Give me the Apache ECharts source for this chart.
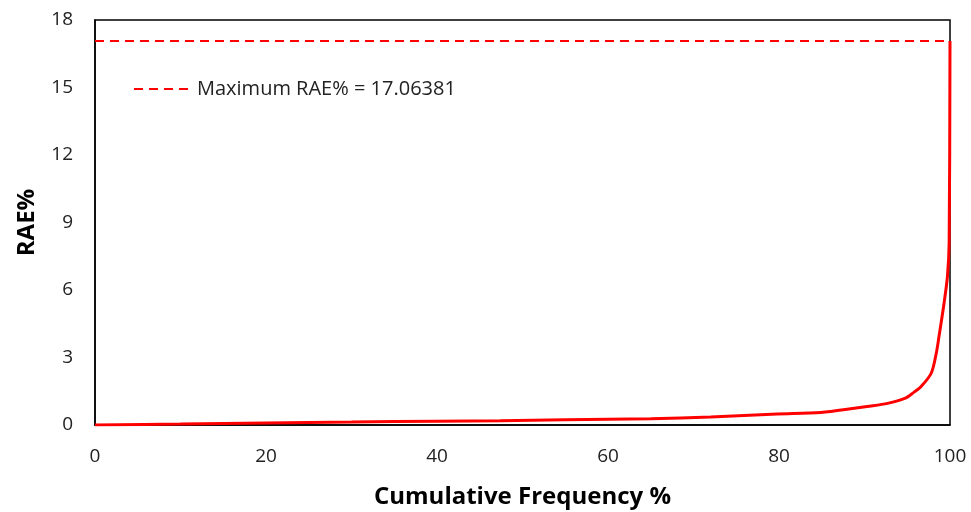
<!DOCTYPE html>
<html>
<head>
<meta charset="utf-8">
<script src="https://cdn.jsdelivr.net/npm/echarts@6/dist/echarts.min.js"></script>
<style>
  html, body { margin: 0; padding: 0; background: #fff; }
  #chart { width: 971px; height: 512px; }
</style>
</head>
<body>
<div id="chart"></div>
<script>
// cumulative frequency (%) and RAE%
var freq = [0, 10, 20, 30, 40, 47.4, 55, 65, 72, 79.8, 84.9, 88.8, 90.3, 92.7, 94.7, 95.8, 96.6, 97.8, 98.4, 98.7, 99.3, 99.7, 99.9, 100]
var rae = [0, 0.04, 0.09, 0.13, 0.17, 0.19, 0.23, 0.28, 0.36, 0.49, 0.56, 0.74, 0.82, 0.96, 1.18, 1.46, 1.7, 2.3, 3.2, 3.9, 5.4, 6.6, 8.1, 17.06381]
var maxRae = 17.06381
var maxLabel = 'Maximum RAE% = 17.06381'

var curve = []
for (var i = 0; i < freq.length; i++) {
  curve.push([freq[i], rae[i]])
}

var font = 'Open Sans, Liberation Sans, sans-serif'
var myChart = echarts.init(document.getElementById('chart'))
myChart.setOption({
  animation: false,
  grid: {
    left: 95,
    right: 21,
    top: 20,
    bottom: 87,
    outerBoundsMode: 'none',
    containLabel: false,
    show: true,
    borderColor: '#000',
    borderWidth: 1.5
  },
  legend: {
    data: [maxLabel],
    left: 128,
    top: 74,
    itemWidth: 58,
    itemHeight: 12,
    itemGap: 8,
    itemStyle: { opacity: 0 },
    textStyle: { fontFamily: font, fontSize: 20, color: '#222' }
  },
  xAxis: {
    type: 'value',
    min: 0,
    max: 100,
    interval: 20,
    name: 'Cumulative Frequency %',
    nameLocation: 'middle',
    nameGap: 60,
    nameTextStyle: { fontFamily: font, fontSize: 24, fontWeight: 'bold', color: '#000' },
    axisLine: { lineStyle: { color: '#000', width: 1.5 } },
    axisTick: { show: false },
    splitLine: { show: false },
    axisLabel: { margin: 22, fontFamily: font, fontSize: 19, color: '#222' }
  },
  yAxis: {
    type: 'value',
    min: 0,
    max: 18,
    interval: 3,
    name: 'RAE%',
    nameLocation: 'middle',
    nameGap: 56,
    nameTextStyle: { fontFamily: font, fontSize: 24, fontWeight: 'bold', color: '#000' },
    axisLine: { show: true, lineStyle: { color: '#000', width: 1.5 } },
    axisTick: { show: false },
    splitLine: { show: false },
    axisLabel: { margin: 22, fontFamily: font, fontSize: 19, color: '#222' }
  },
  series: [
    {
      name: 'curve',
      type: 'line',
      data: curve,
      smooth: 0.3,
      symbol: 'none',
      lineStyle: { color: '#ff0000', width: 3 },
      itemStyle: { color: '#ff0000' }
    },
    {
      name: maxLabel,
      type: 'line',
      data: [[0, maxRae], [100, maxRae]],
      symbol: 'none',
      lineStyle: { color: '#ff0000', width: 2, type: [9, 6] },
      itemStyle: { color: '#ff0000' }
    }
  ]
})
</script>
</body>
</html>
